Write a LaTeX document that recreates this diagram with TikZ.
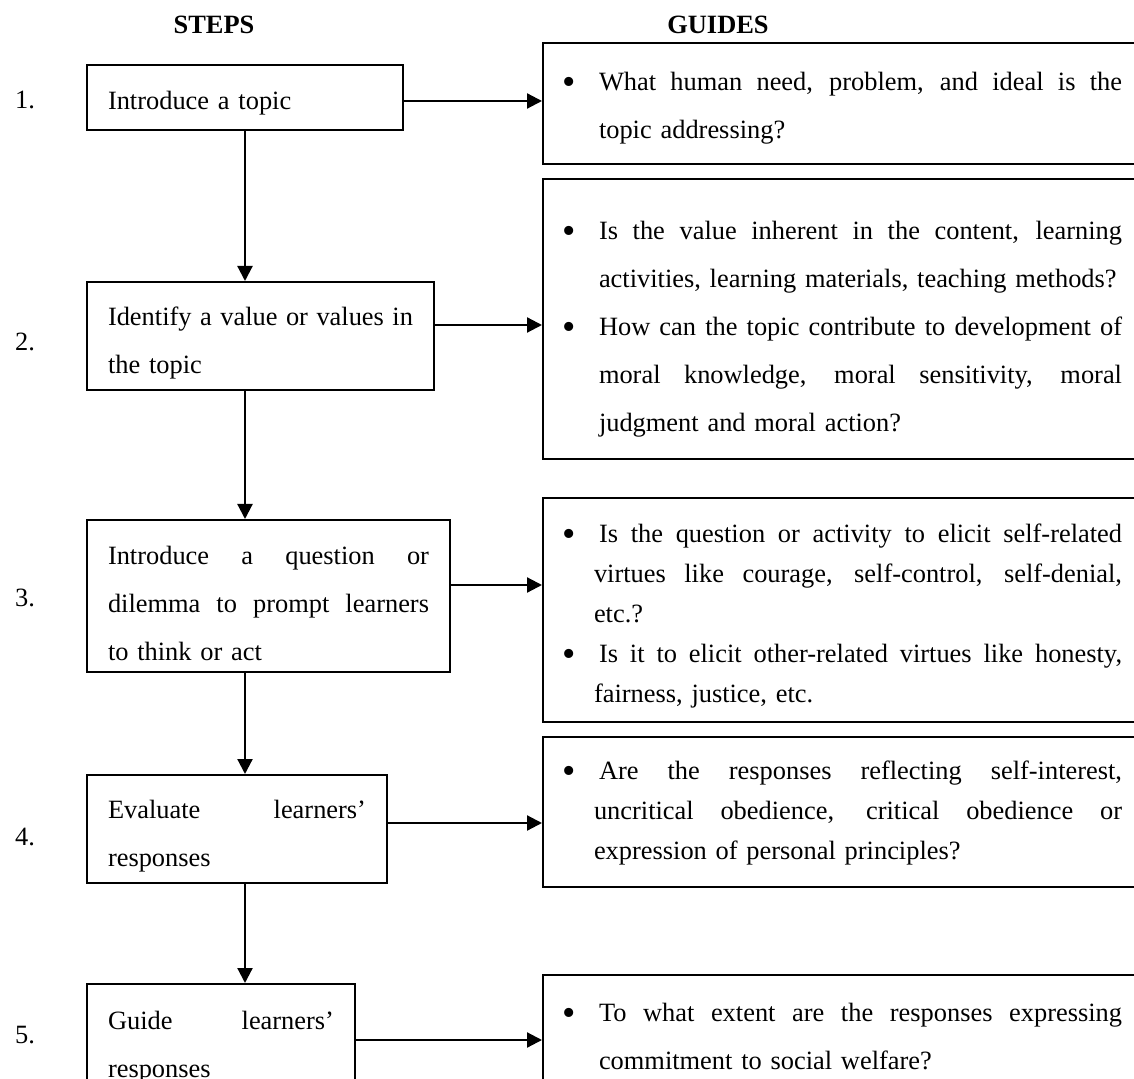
\documentclass[tikz,border=0pt]{standalone}
\usepackage{fontspec}
\setmainfont{Liberation Serif}
\usetikzlibrary{arrows.meta}

% one justified line / last line of a paragraph
\newcommand\jsp{\spaceskip=\fontdimen2\font plus 1fil minus \fontdimen4\font\relax}
\newcommand\sline[1]{\hbox to\hsize{\jsp#1}\par\noindent\ignorespaces}
\newcommand\slast[1]{\hbox to\hsize{#1\hfil}\par\noindent\ignorespaces}
\newcommand\gline[2][28pt]{\hbox to\hsize{\hskip#1\hbox to\dimexpr289.5pt-#1\relax{\jsp#2}\hss}\par\noindent\ignorespaces}
\newcommand\glast[2][28pt]{\hbox to\hsize{\hskip#1\hbox to\dimexpr289.5pt-#1\relax{#2\hfil}\hss}\par\noindent\ignorespaces}
\newcommand\gbul{\llap{\fontsize{19pt}{0pt}\selectfont\raisebox{-2pt}{\textbullet}\hskip11.7pt}}

\begin{document}
\begin{tikzpicture}[x=0.5pt, y=-0.5pt,
  stepbox/.style={draw, line width=1pt, anchor=north west, inner xsep=10.5pt, inner ysep=0pt,
    font=\fontsize{13.2pt}{24pt}\selectfont},
  guidebox/.style={draw, line width=1pt, anchor=north west, inner xsep=0pt, inner ysep=0pt,
    text width=304pt, font=\fontsize{13.2pt}{24pt}\selectfont},
  arr/.style={-{Triangle[length=7.5pt,width=7.5pt]}, line width=1.1pt},
  numlbl/.style={anchor=base west, font=\fontsize{13.2pt}{15pt}\selectfont},
  head/.style={anchor=base, font=\bfseries\fontsize{13.2pt}{15pt}\selectfont}]
  \useasboundingbox (0,0) rectangle (1134,1079);

  % Headers
  \node[head] (hsteps) at (214,34) {STEPS};
  \node[head] (hguides) at (718,34) {GUIDES};

  % Steps
  \node[stepbox, text width=137pt, text height=22.5pt, text depth=10pt] (s1) at (86,64)
    {\slast{Introduce a topic}};
  \node[stepbox, text width=152.5pt, text height=22pt, text depth=32pt] (s2) at (86,281)
    {\sline{Identify a value or values in}\slast{the topic}};
  \node[stepbox, text width=160.5pt, text height=22pt, text depth=54pt] (s3) at (86,519)
    {\sline{Introduce a question or}\sline{dilemma to prompt learners}\slast{to think or act}};
  \node[stepbox, text width=129pt, text height=21.5pt, text depth=32.5pt] (s4) at (86,774)
    {\sline{Evaluate learners’}\slast{responses}};
  \node[stepbox, text width=113pt, text height=22.5pt, text depth=31.5pt] (s5) at (86,983)
    {\sline{Guide learners’}\slast{responses}};

  % Numbers
  \foreach \n/\y in {1/109, 2/350.7, 3/606.7, 4/845, 5/1043} {
    \node[numlbl] (n\n) at (8,\y) {\n.};
  }

  % Guides
  \node[guidebox, text height=24pt, text depth=36.5pt] (g1) at (542,42)
    {\gline{\gbul What human need, problem, and ideal is the}\glast{topic addressing?}};
  \node[guidebox, text height=30.5pt, text depth=109.5pt] (g2) at (542,178)
    {\gline{\gbul Is the value inherent in the content, learning}%
     \glast{activities, learning materials, teaching methods?}%
     \gline{\gbul How can the topic contribute to development of}%
     \gline{moral knowledge, moral sensitivity, moral}%
     \glast{judgment and moral action?}};
  \node[guidebox, font=\fontsize{13.2pt}{20pt}\selectfont, text height=22pt, text depth=90pt] (g3) at (542,497)
    {\gline{\gbul Is the question or activity to elicit self-related}%
     \gline[25.5pt]{virtues like courage, self-control, self-denial,}%
     \glast[25.5pt]{etc.?}%
     \gline{\gbul Is it to elicit other-related virtues like honesty,}%
     \glast[25.5pt]{fairness, justice, etc.}};
  \node[guidebox, font=\fontsize{13.2pt}{20pt}\selectfont, text height=21pt, text depth=54pt] (g4) at (542,736)
    {\gline{\gbul Are the responses reflecting self-interest,}%
     \gline[25.5pt]{uncritical obedience, critical obedience or}%
     \glast[25.5pt]{expression of personal principles?}};
  \node[guidebox, text height=23pt, text depth=40pt] (g5) at (542,974)
    {\gline{\gbul To what extent are the responses expressing}\glast{commitment to social welfare?}};

  % Arrows
  \foreach \a/\b in {1/2, 2/3, 3/4, 4/5} {
    \draw[arr] (s\a.south -| s1.south) -- (s\b.north -| s1.south);
  }
  \foreach \i/\dy in {1/-1.75, 2/5.5, 3/5.5, 4/3, 5/-1} {
    \draw[arr] ([yshift=\dy pt]s\i.east) -- ([yshift=\dy pt]s\i.east -| g\i.west);
  }
\end{tikzpicture}
\end{document}
